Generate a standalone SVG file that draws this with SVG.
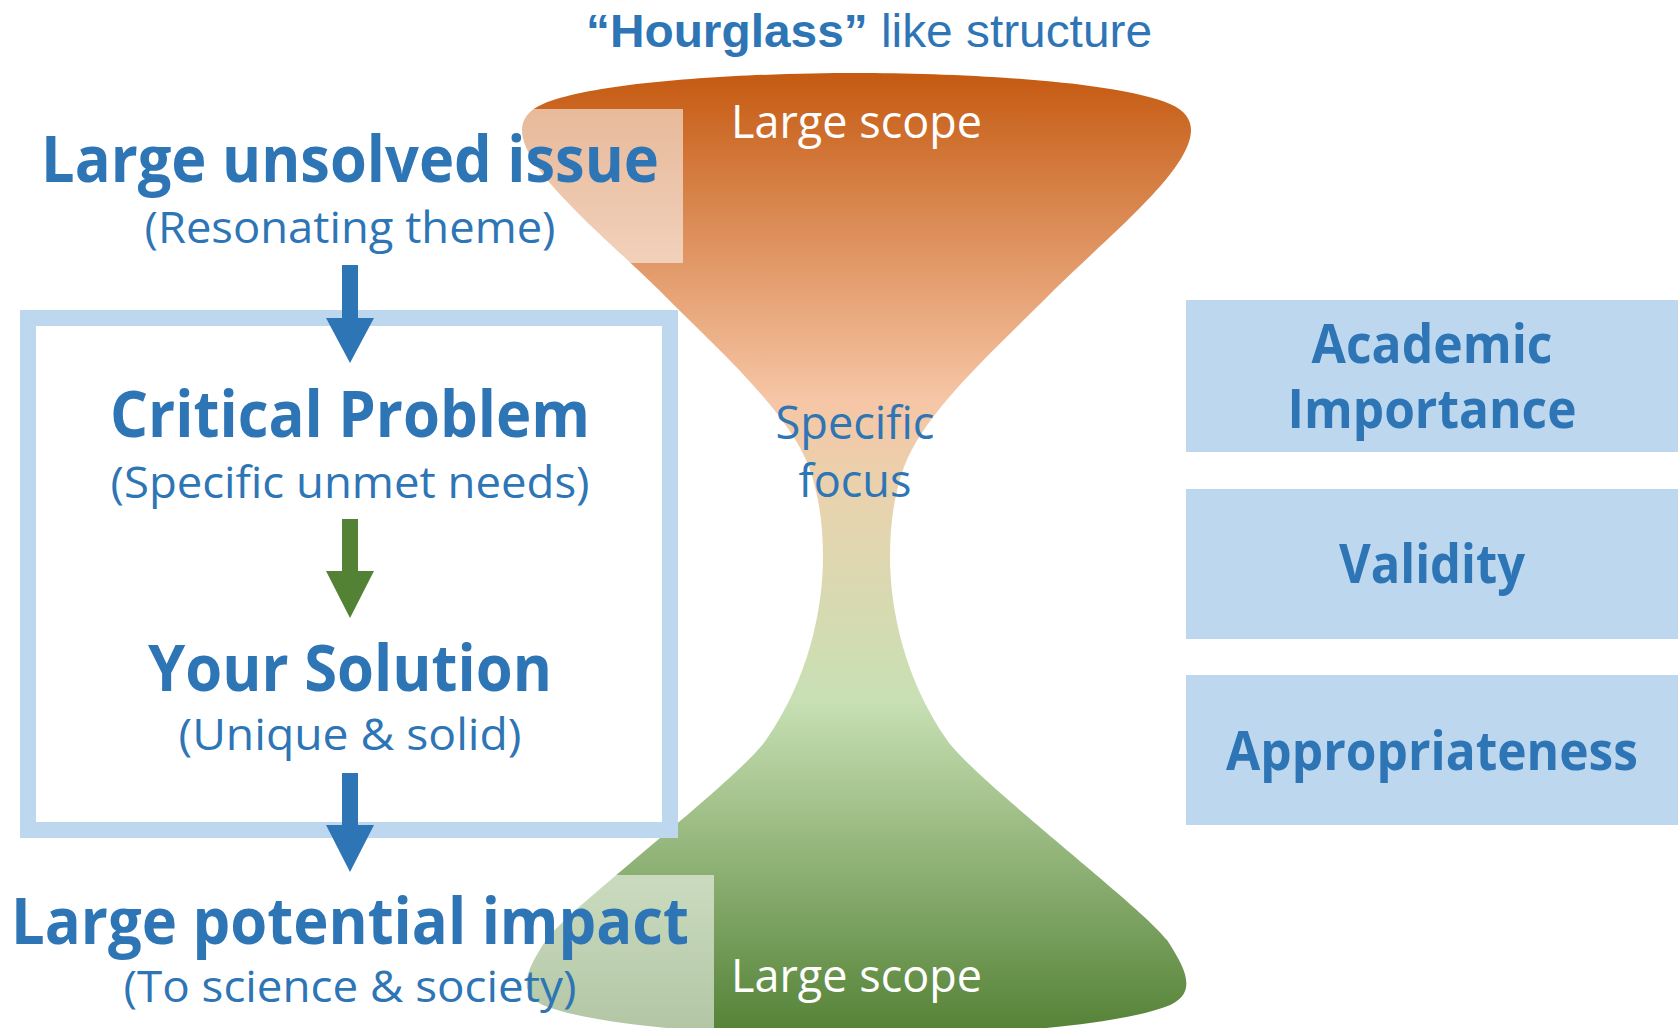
<svg xmlns="http://www.w3.org/2000/svg" width="1678" height="1028" viewBox="0 0 1678 1028">
<style>
.t{font-family:"Open Sans","Noto Sans","DejaVu Sans",sans-serif;fill:#2E75B6;text-anchor:middle}
.b{font-weight:700;font-size:65px}
.r{font-weight:400;font-size:44px}
.w{font-family:"Open Sans","Noto Sans","DejaVu Sans",sans-serif;fill:#FFFFFF;font-size:45px;text-anchor:start}
.side{fill:#BDD7EE}
.sb{font-weight:700;font-size:53px}
.veil{fill:#FFFFFF;fill-opacity:0.55}
</style>
<defs>
<linearGradient id="hg" gradientUnits="userSpaceOnUse" x1="0" y1="73" x2="0" y2="1036">
<stop offset="0" stop-color="#C55A11"/>
<stop offset="0.34" stop-color="#F6C6A6"/>
<stop offset="0.443" stop-color="#E8D3AE"/>
<stop offset="0.651" stop-color="#C8E0B4"/>
<stop offset="1" stop-color="#538135"/>
</linearGradient>
</defs>
<rect width="1678" height="1028" fill="#FFFFFF"/>

<g id="title">
<text x="869" y="47" textLength="566" lengthAdjust="spacingAndGlyphs" style="font-family:'Liberation Sans',Arial,sans-serif;font-size:47px;fill:#2E75B6;text-anchor:middle"><tspan font-weight="700">“Hourglass”</tspan> like structure</text>
</g>

<g id="hourglass">
<path fill="url(#hg)" d="M856.5,73 C953,73 1113,80 1170,104 C1185,110 1191,120 1191,130 C1191,170 1110,235 1054,290 C1000,345 925,410 904,467 C894,495 890,525 890,557 C890,610 905,680 947,740 C975,780 1140,905 1167,940 C1188,972 1198,995 1165,1007 C1100,1030 950,1036 856.5,1036 C763,1036 613,1030 548,1007 C515,995 525,972 546,940 C573,905 738,780 766,740 C808,680 823,610 823,557 C823,525 819,495 809,467 C788,410 713,345 659,290 C603,235 522,170 522,130 C522,120 528,110 543,104 C600,80 760,73 856.5,73 Z"/>
<rect class="veil" x="500" y="109" width="183" height="154"/>
<rect class="veil" x="500" y="875" width="214" height="160"/>
<text class="w" x="731" y="138" textLength="251" lengthAdjust="spacingAndGlyphs">Large scope</text>
<text class="w" x="731" y="992" textLength="251" lengthAdjust="spacingAndGlyphs">Large scope</text>
<text class="t" x="855" y="439" style="font-size:45px" textLength="159" lengthAdjust="spacingAndGlyphs">Specific</text>
<text class="t" x="855" y="497" style="font-size:45px">focus</text>
</g>

<g id="frame">
<rect x="28" y="318" width="642" height="512" fill="none" stroke="#BDD7EE" stroke-width="16"/>
</g>

<g id="connectors">
<polygon fill="#2E75B6" points="342,265 358,265 358,318 374,318 350,363 326,318 342,318"/>
<polygon fill="#548235" points="342,519 358,519 358,571 374,571 350,618 326,571 342,571"/>
<polygon fill="#2E75B6" points="342,773 358,773 358,825 374,825 350,872 326,825 342,825"/>
</g>

<g id="node-issue">
<text class="t b" x="350" y="182" textLength="618" lengthAdjust="spacingAndGlyphs">Large unsolved issue</text>
<text class="t r" x="350" y="243" textLength="411" lengthAdjust="spacingAndGlyphs">(Resonating theme)</text>
</g>
<g id="node-problem">
<text class="t b" x="350" y="437" textLength="480" lengthAdjust="spacingAndGlyphs">Critical Problem</text>
<text class="t r" x="350" y="498" textLength="479" lengthAdjust="spacingAndGlyphs">(Specific unmet needs)</text>
</g>
<g id="node-solution">
<text class="t b" x="350" y="691" textLength="404" lengthAdjust="spacingAndGlyphs">Your Solution</text>
<text class="t r" x="350" y="750" textLength="343" lengthAdjust="spacingAndGlyphs">(Unique &amp; solid)</text>
</g>
<g id="node-impact">
<text class="t b" x="350" y="944" textLength="678" lengthAdjust="spacingAndGlyphs">Large potential impact</text>
<text class="t r" x="350" y="1002" textLength="453" lengthAdjust="spacingAndGlyphs">(To science &amp; society)</text>
</g>

<g id="node-academic">
<rect class="side" x="1186" y="300" width="492" height="152"/>
<text class="t sb" x="1432" y="363" textLength="241" lengthAdjust="spacingAndGlyphs">Academic</text>
<text class="t sb" x="1432" y="428" textLength="289" lengthAdjust="spacingAndGlyphs">Importance</text>
</g>
<g id="node-validity">
<rect class="side" x="1186" y="489" width="492" height="150"/>
<text class="t sb" x="1432" y="583" textLength="186" lengthAdjust="spacingAndGlyphs">Validity</text>
</g>
<g id="node-appropriateness">
<rect class="side" x="1186" y="675" width="492" height="150"/>
<text class="t sb" x="1432" y="770" textLength="412" lengthAdjust="spacingAndGlyphs">Appropriateness</text>
</g>
</svg>
